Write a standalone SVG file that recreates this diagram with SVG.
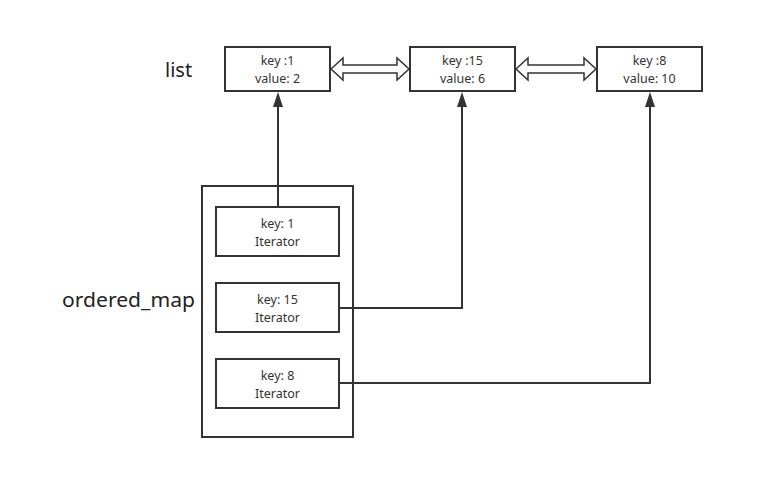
<svg xmlns="http://www.w3.org/2000/svg" width="764" height="499" viewBox="0 0 764 499">
<defs>
<style>
.box{fill:#fff;stroke:#333;stroke-width:2}
.t{font-family:"Noto Sans","Open Sans",sans-serif;font-size:12.5px;fill:#333;text-anchor:middle}
.lbl{font-family:"Noto Sans","Open Sans",sans-serif;font-size:20px;fill:#222}
.c{fill:none;stroke:#333;stroke-width:2}
.dbl{fill:#fff;stroke:#333;stroke-width:1.5;stroke-linejoin:miter}
</style>
</defs>
<rect width="764" height="499" fill="#fff"/>
<text class="lbl" x="165" y="77">list</text>
<text class="lbl" x="62" y="307" textLength="133" lengthAdjust="spacingAndGlyphs">ordered_map</text>
<g id="list1"><rect class="box" x="225" y="47" width="105" height="44"/><text class="t" x="277.5" y="65">key :1</text><text class="t" x="277.5" y="83">value: 2</text></g>
<g id="list2"><rect class="box" x="410" y="47" width="105" height="44"/><text class="t" x="462.5" y="65">key :15</text><text class="t" x="462.5" y="83">value: 6</text></g>
<g id="list3"><rect class="box" x="597" y="47" width="105" height="44"/><text class="t" x="649.5" y="65">key :8</text><text class="t" x="649.5" y="83">value: 10</text></g>
<g id="map"><rect class="box" x="202" y="186" width="151" height="251"/></g>
<g id="it1"><rect class="box" x="216" y="207" width="123" height="49"/><text class="t" x="277.5" y="228">key: 1</text><text class="t" x="277.5" y="246">Iterator</text></g>
<g id="it15"><rect class="box" x="216" y="283" width="123" height="49"/><text class="t" x="277.5" y="304">key: 15</text><text class="t" x="277.5" y="322">Iterator</text></g>
<g id="it8"><rect class="box" x="216" y="359" width="123" height="49"/><text class="t" x="277.5" y="380">key: 8</text><text class="t" x="277.5" y="398">Iterator</text></g>
<g id="connectors">
<path class="dbl" d="M331,69 L343,58 L343,65 L397,65 L397,58 L409,69 L397,80 L397,73 L343,73 L343,80 Z"/>
<path class="dbl" d="M516,69 L528,58 L528,65 L584,65 L584,58 L596,69 L584,80 L584,73 L528,73 L528,80 Z"/>
<path class="c" d="M278,207 L278,106"/>
<path d="M273,107 L278,92 L283,107 Z" fill="#333"/>
<path class="c" d="M339,308 L462,308 L462,106"/>
<path d="M457,107 L462,92 L467,107 Z" fill="#333"/>
<path class="c" d="M339,383 L650,383 L650,106"/>
<path d="M645,107 L650,92 L655,107 Z" fill="#333"/>
</g>
</svg>
